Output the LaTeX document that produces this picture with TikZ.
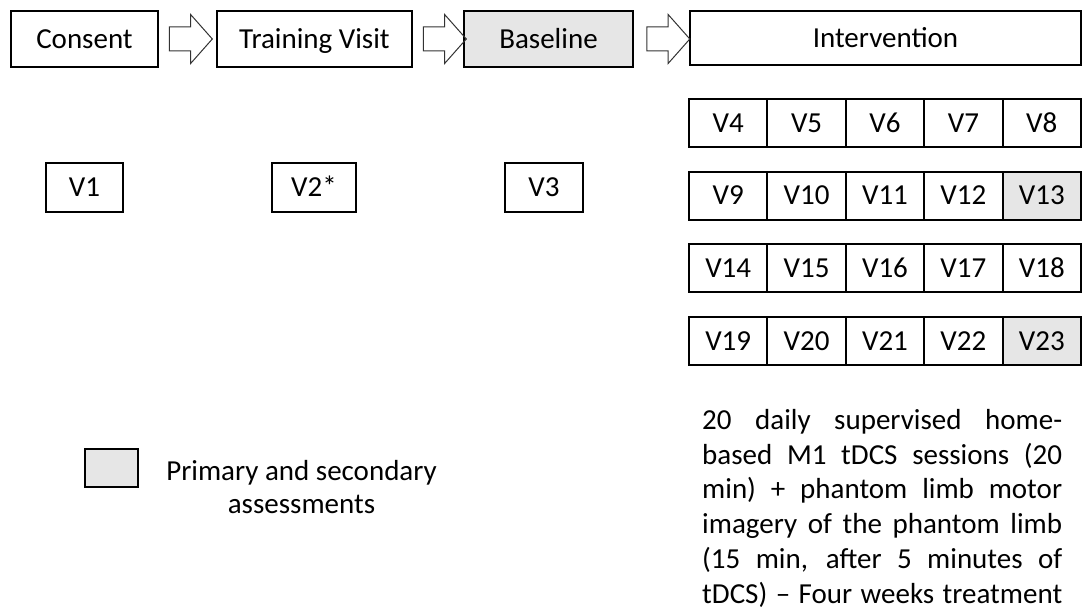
\documentclass[tikz,border=0pt]{standalone}
\usepackage{fontspec}
\setmainfont{Carlito}
\usetikzlibrary{shapes.arrows,positioning}
\definecolor{assess}{RGB}{230,230,230}
\newcommand\jline[1]{\hbox to 360pt{\spaceskip=.22em plus 1fil minus .1em\relax #1}}
\tikzset{
  box/.style={draw,line width=2pt,inner sep=0pt,text height=18.4pt,text depth=0pt,font=\fontsize{29}{34}\selectfont},
  visit/.style={box,minimum width=78.4pt,minimum height=48pt},
  flow/.style={draw=black!80,line width=1pt,single arrow,single arrow head extend=12.5pt,
    single arrow tip angle=97,single arrow head indent=0pt,minimum height=43pt,
    text height=0pt,text depth=0pt,inner xsep=0pt,inner ysep=11.5pt},
}
\begin{document}
\begin{tikzpicture}[x=1pt,y=-1pt] % Define positions
    \useasboundingbox (0,0) rectangle (1082,610);
    \coordinate (C) at (84.5,39); \coordinate (T) at (314.5,39); \coordinate (B) at (548.5,39); \coordinate (I) at (885.5,38.5);

    % Draw phase boxes
    \node[box,minimum width=147pt,minimum height=56pt] (consent) at (C) {Consent};
    \node[box,minimum width=195pt,minimum height=56pt] (training) at (T) {Training Visit};
    \node[box,fill=assess,minimum width=169pt,minimum height=56pt] (baseline) at (B) {Baseline};
    \node[box,minimum width=391pt,minimum height=54pt] (intervention) at (I) {Intervention};

    % Draw block arrows
    \node[flow] (a1) at (185.5,39) {};
    \node[flow] (a2) at (439.5,39) {};
    \node[flow] (a3) at (663,39) {};

    % Add single visits
    \node[box,minimum width=77pt,minimum height=49pt] (v1) at (84.5,187.5) {V1};
    \node[box,minimum width=84pt,minimum height=49pt] (v2) at (314,187.5) {V2*};
    \node[box,minimum width=78pt,minimum height=49pt] (v3) at (544,187.5) {V3};

    % Draw intervention visits
    \foreach \j in {0,...,3}
      \foreach \i in {0,...,4} {
        \pgfmathtruncatemacro{\n}{4+5*\j+\i}
        \pgfmathsetmacro{\x}{728.2+78.4*\i}
        \pgfmathsetmacro{\y}{123+72.7*\j}
        \ifnum\i=4 \ifodd\j \def\shade{assess}\else\def\shade{white}\fi \else\def\shade{white}\fi
        \node[visit,fill=\shade] (v\n) at (\x,\y) {V\n};
      }

    % Add description
    \node[anchor=north west,inner sep=0pt,text width=360pt,font=\fontsize{29}{34.8}\selectfont] (desc) at (702,409) {%
      \jline{20 daily supervised home-}
      \jline{based M1 tDCS sessions (20}
      \jline{min) + phantom limb motor}
      \jline{imagery of the phantom limb}
      \jline{(15 min, after 5 minutes of}
      \jline{tDCS) – Four weeks treatment}};

    % Add legend
    \node[anchor=north,inner sep=0pt,align=center,font=\fontsize{29}{33}\selectfont] (keytext) at (301.5,460) {Primary and secondary\\assessments};
    \node[box,fill=assess,minimum width=53pt,minimum height=38pt] (key) at (111.5,468) {};

  \end{tikzpicture}
\end{document}
